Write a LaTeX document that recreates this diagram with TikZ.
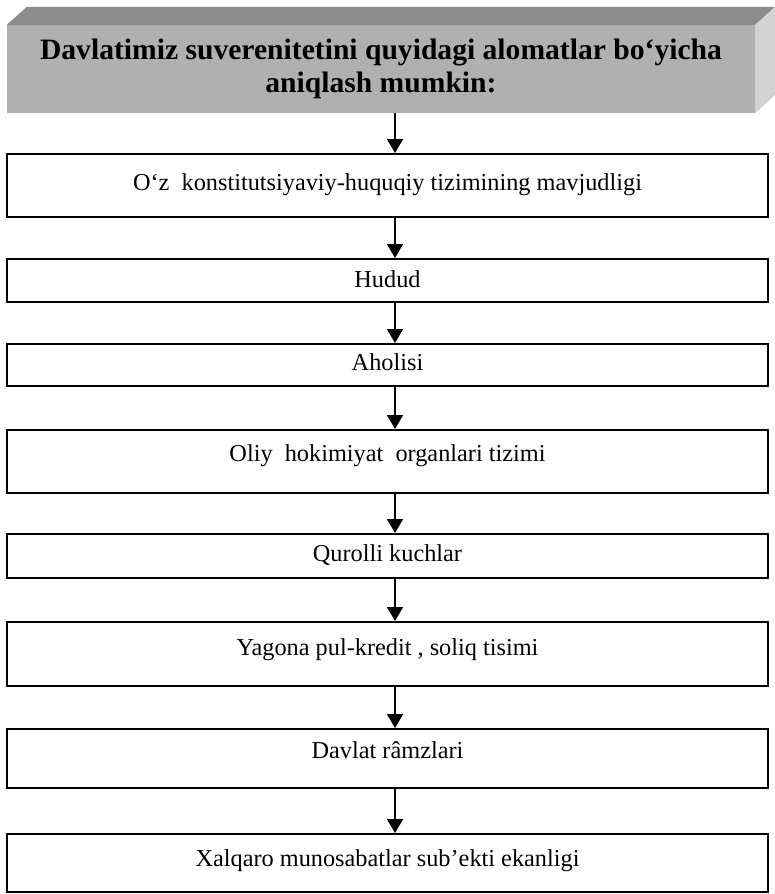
\documentclass[tikz,border=0pt]{standalone}
\usepackage{fontspec}
\setmainfont{Liberation Serif}
\usetikzlibrary{arrows.meta}
\definecolor{frontgray}{HTML}{B0B0B0}
\definecolor{topgray}{HTML}{8C8C8C}
\definecolor{sidegray}{HTML}{D2D2D2}
\begin{document}
\begin{tikzpicture}[x=1pt,y=-1pt,
  box/.style={draw, line width=1.8pt, minimum width=761pt, inner sep=0pt,
    font=\fontsize{24.3}{28}\selectfont, anchor=north, text height=17pt, text depth=6pt},
  head/.style={fill=frontgray, minimum width=748pt, minimum height=88pt, inner sep=0pt,
    align=center, font=\bfseries\fontsize{29.6}{33}\selectfont},
  arr/.style={line width=1.8pt, -{Triangle[length=14pt,width=16pt]}}]
\useasboundingbox (0,0) rectangle (775,894);
% header block
\node[head] (head) at (381,69) {Davlatimiz suverenitetini quyidagi alomatlar bo‘yicha\\aniqlash mumkin:};
\fill[topgray] (head.north west) -- ++(20,-18) -- (775,7) -- (head.north east) -- cycle;
\fill[sidegray] (head.north east) -- (775,7) -- (775,95) -- (head.south east) -- cycle;
% boxes
\node[box, minimum height=63pt] (b1) at (387.5,153) {O‘z\ \ konstitutsiyaviy-huquqiy tizimining mavjudligi};
\node[box, minimum height=43pt, text depth=3pt] (b2) at (387.5,258) {Hudud};
\node[box, minimum height=42pt] (b3) at (387.5,343) {Aholisi};
\node[box, minimum height=63pt, text depth=16pt] (b4) at (387.5,429) {Oliy\ \ hokimiyat\ \ organlari tizimi};
\node[box, minimum height=44pt] (b5) at (387.5,533) {Qurolli kuchlar};
\node[box, minimum height=64pt, text depth=14pt] (b6) at (387.5,621) {Yagona pul-kredit , soliq tisimi};
\node[box, minimum height=59pt, text depth=16pt] (b7) at (387.5,728) {Davlat râmzlari};
\node[box, minimum height=58pt, text depth=10pt] (b8) at (387.5,833) {Xalqaro munosabatlar sub’ekti ekanligi};
% arrows
\coordinate (ax) at (395,0);
\draw[arr] (head.south -| ax) -- (b1.north -| ax);
\draw[arr] (b1.south -| ax) -- (b2.north -| ax);
\draw[arr] (b2.south -| ax) -- (b3.north -| ax);
\draw[arr] (b3.south -| ax) -- (b4.north -| ax);
\draw[arr] (b4.south -| ax) -- (b5.north -| ax);
\draw[arr] (b5.south -| ax) -- (b6.north -| ax);
\draw[arr] (b6.south -| ax) -- (b7.north -| ax);
\draw[arr] (b7.south -| ax) -- (b8.north -| ax);
\end{tikzpicture}
\end{document}
